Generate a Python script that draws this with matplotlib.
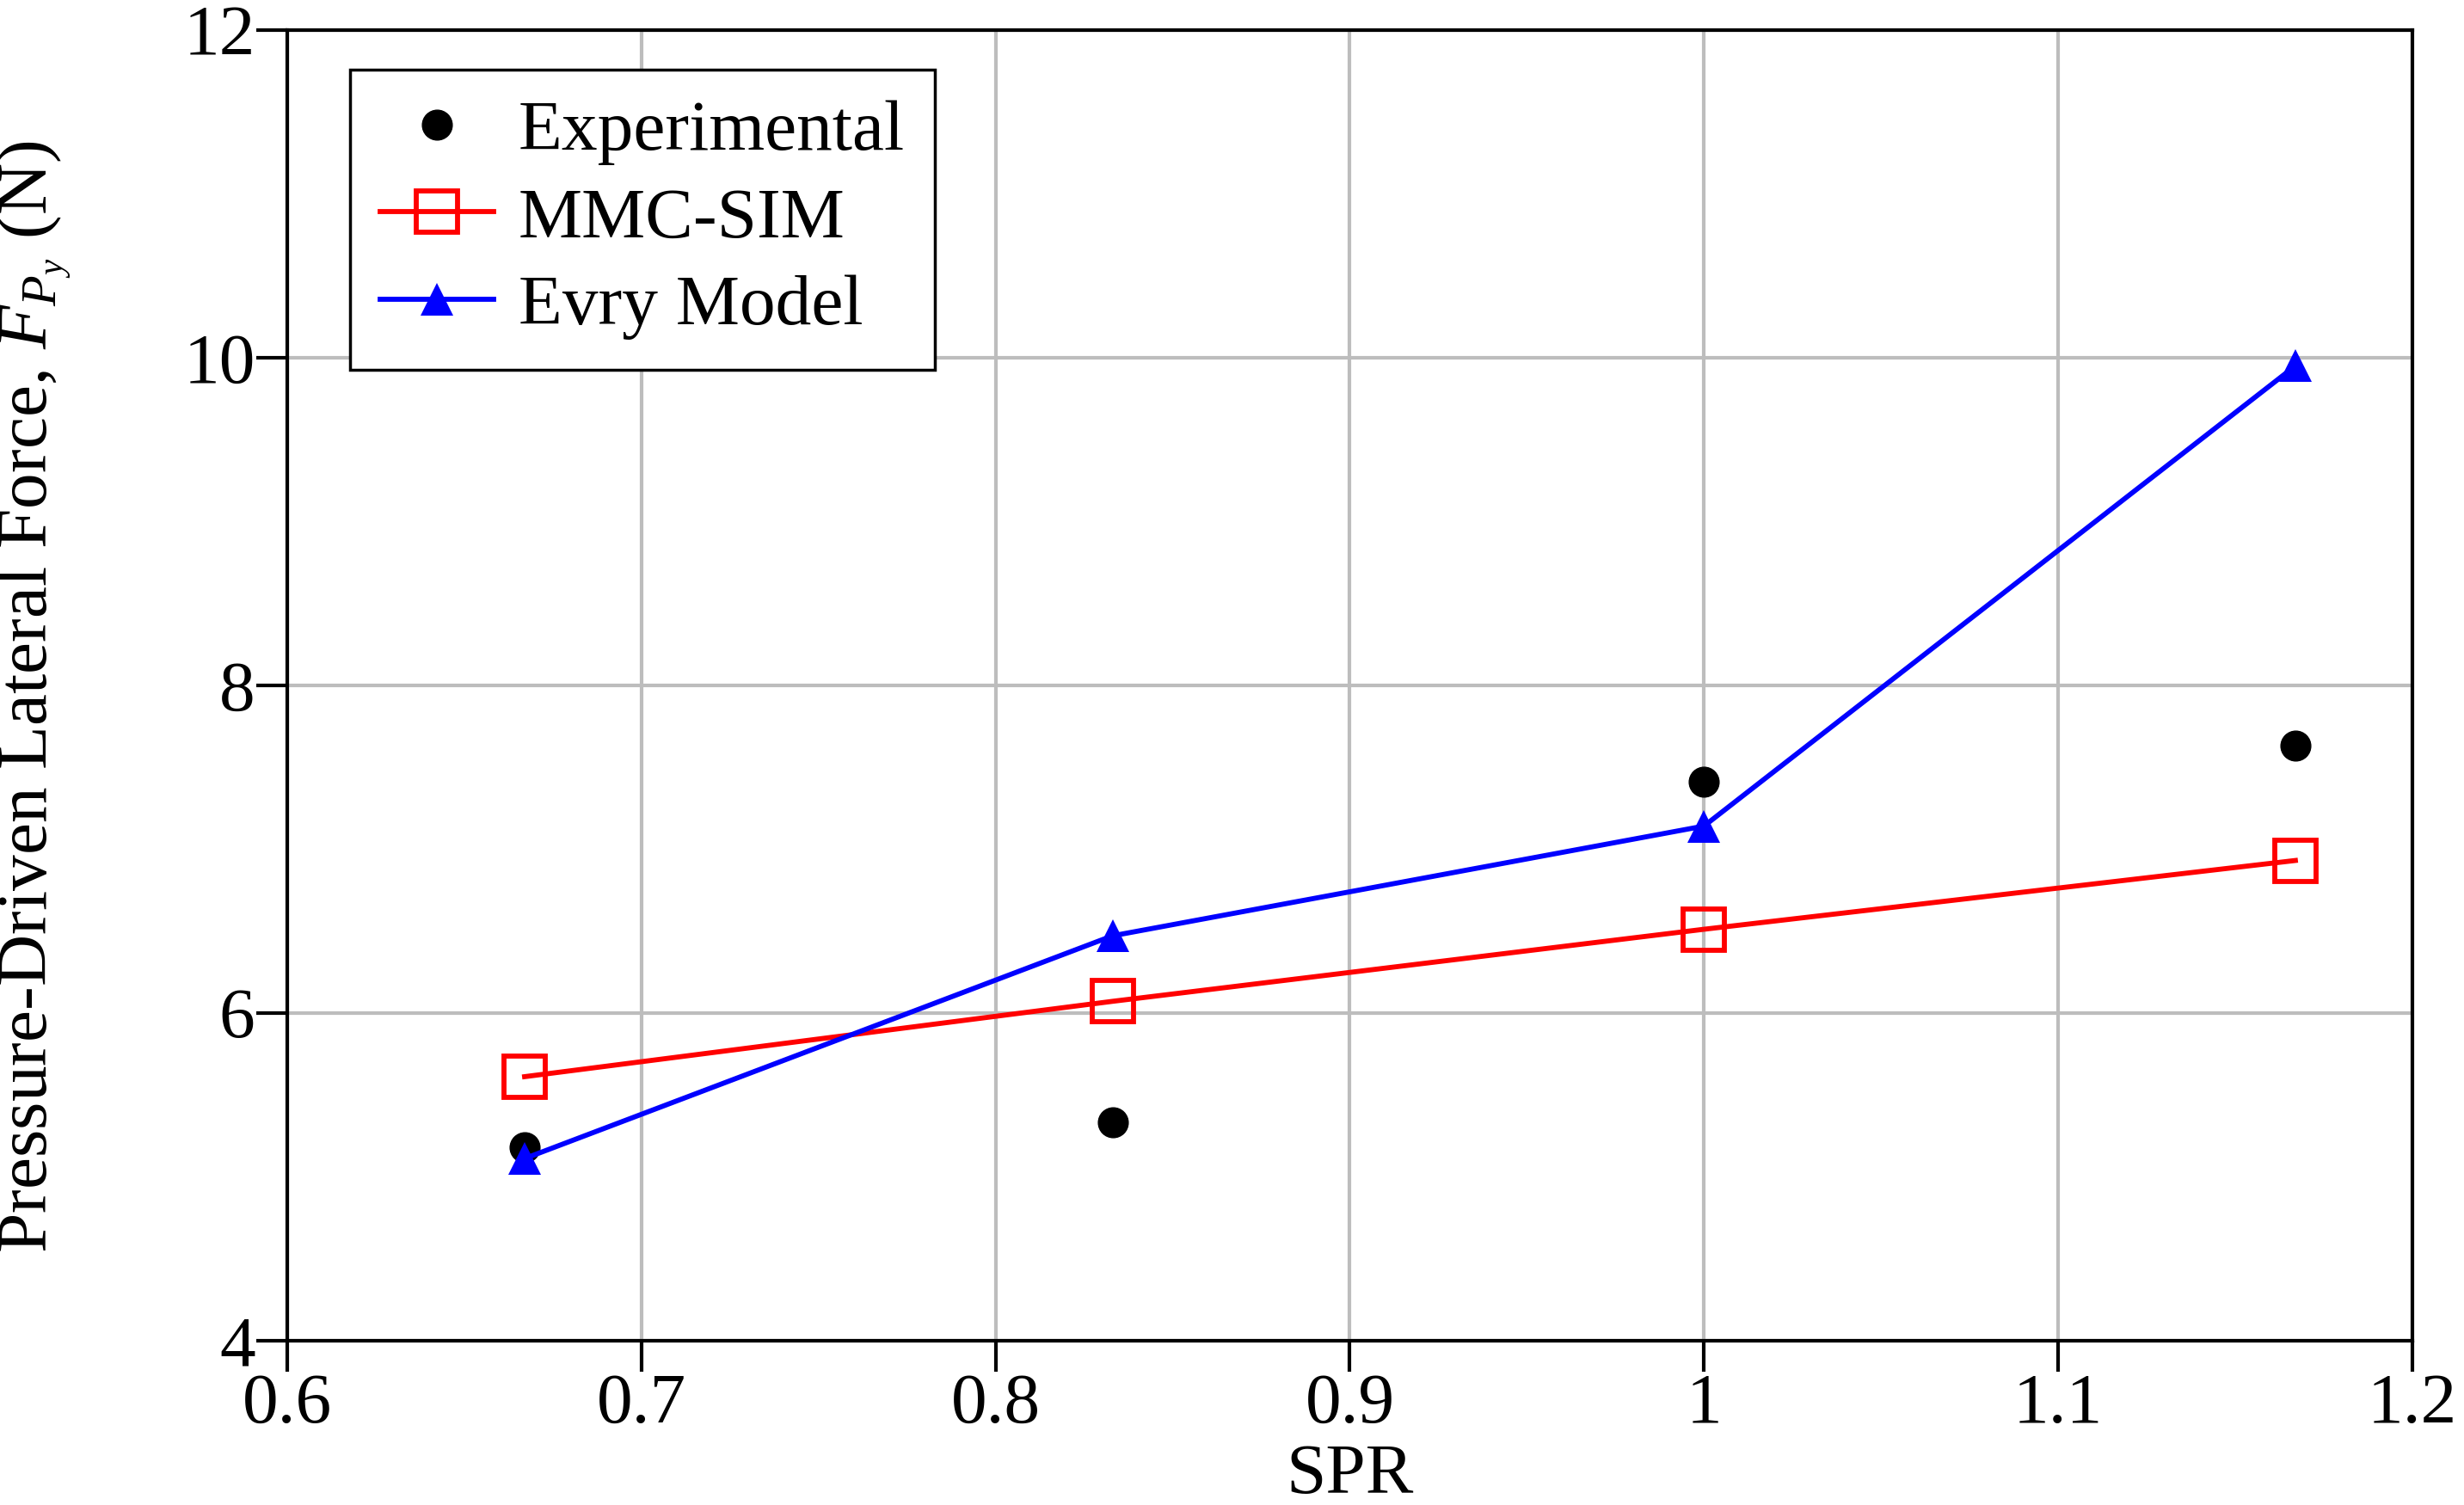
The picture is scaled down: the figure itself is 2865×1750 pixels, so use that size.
import matplotlib
matplotlib.use("Agg")
import matplotlib.pyplot as plt

plt.rcParams['font.family'] = ['Liberation Serif', 'DejaVu Serif']
plt.rcParams['mathtext.fontset'] = 'custom'
plt.rcParams['mathtext.rm'] = 'Liberation Serif'
plt.rcParams['mathtext.it'] = 'Liberation Serif:italic'

# Data
spr = [0.667, 0.833, 1.0, 1.167]
experimental = [5.18, 5.33, 7.41, 7.63]
mmc_sim = [5.61, 6.07, 6.51, 6.93]
evry_model = [5.11, 6.47, 7.14, 9.95]

x_ticks = [0.6, 0.7, 0.8, 0.9, 1.0, 1.1, 1.2]
x_tick_labels = ['0.6', '0.7', '0.8', '0.9', '1', '1.1', '1.2']
y_ticks = [4, 6, 8, 10, 12]
y_tick_labels = ['4', '6', '8', '10', '12']

FS = 60

fig = plt.figure(figsize=(28.65, 17.5), dpi=100)
ax = fig.add_axes([0.1166, 0.1094, 0.979 - 0.1166, 0.980 - 0.1094])

ax.plot(spr, experimental, linestyle='none', marker='o', color='black',
        markersize=25, label='Experimental', zorder=3)
ax.plot(spr, mmc_sim, color='#ff0000', linewidth=4.2, marker='s', markersize=34,
        fillstyle='none', markeredgewidth=4.2, markeredgecolor='#ff0000',
        label='MMC-SIM', zorder=4)
ax.plot(spr, evry_model, color='#0000ff', linewidth=4.2, marker='^', markersize=27,
        markeredgewidth=0, label='Evry Model', zorder=5)

ax.set_xlim(0.6, 1.2)
ax.set_ylim(4, 12)
ax.set_xticks(x_ticks)
ax.set_xticklabels(x_tick_labels)
ax.set_yticks(y_ticks)
ax.set_yticklabels(y_tick_labels)

ax.grid(True, color='#bdbdbd', linewidth=3, zorder=0)
ax.set_axisbelow(True)

for s in ax.spines.values():
    s.set_linewidth(3)
    s.set_color('black')

ax.tick_params(axis='both', direction='out', length=26, width=3, pad=1,
               labelsize=FS, colors='black')

ax.set_xlabel('SPR', fontsize=FS, labelpad=5)
ax.set_ylabel(r'Pressure-Driven Lateral Force, $F_{P_y}$ (N)', fontsize=FS, va='center')
ax.yaxis.set_label_coords(-0.119, 0.491)

leg = ax.legend(loc='upper left', bbox_to_anchor=(0.0295, 0.970), borderaxespad=0,
                fontsize=FS, handlelength=1.58, handletextpad=0.35, borderpad=0.42,
                labelspacing=0.3, fancybox=False, frameon=True)
leg.get_frame().set_edgecolor('black')
leg.get_frame().set_linewidth(2.5)
leg.get_frame().set_alpha(1)

fig.savefig('out.png', dpi=100)
